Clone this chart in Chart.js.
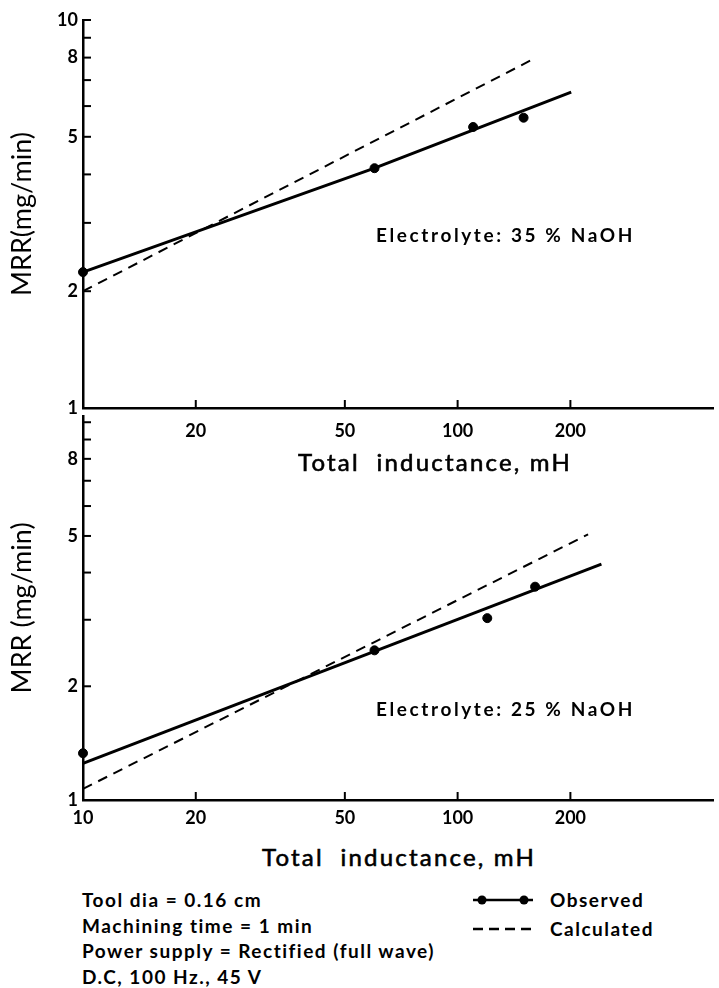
<!DOCTYPE html>
<html>
<head>
<meta charset="utf-8">
<script src="https://cdn.jsdelivr.net/npm/chart.js@4/dist/chart.umd.min.js"></script>
<style>
  body { margin: 0; background: #fff; }
  #wrap { position: relative; width: 719px; height: 988px; font-family: Lato, "DejaVu Sans", sans-serif; font-weight: 700; color: #000; }
  canvas { position: absolute; left: 0; }
  .txt { position: absolute; white-space: nowrap; }
  .xtitle { font-size: 24px; line-height: 28px; letter-spacing: 2.2px; font-weight: 400; -webkit-text-stroke: 0.6px #000; }
  .elec { font-size: 19px; line-height: 22px; letter-spacing: 2.6px; }
  .note { font-size: 19px; line-height: 25.5px; letter-spacing: 1.5px; }
</style>
</head>
<body>
<div id="wrap">
  <canvas id="top" width="719" height="460" style="top:0"></canvas>
  <canvas id="bottom" width="719" height="440" style="top:400px"></canvas>

  <div class="txt xtitle" style="left:298px; top:448px">Total&nbsp; inductance, mH</div>
  <div class="txt xtitle" style="left:262px; top:843px">Total&nbsp; inductance, mH</div>
  <div class="txt elec" style="left:376px; top:224px">Electrolyte: 35 % NaOH</div>
  <div class="txt elec" style="left:376px; top:698px">Electrolyte: 25 % NaOH</div>

  <div class="txt note" style="left:82px; top:887px">
    Tool dia = 0.16 cm<br>
    Machining time = 1 min<br>
    Power supply = Rectified (full wave)<br>
    D.C, 100 Hz., 45 V
  </div>

  <svg style="position:absolute; left:470px; top:890px" width="70" height="50">
    <line x1="3" y1="10" x2="63" y2="10" stroke="#000" stroke-width="2.5"/>
    <circle cx="12" cy="10" r="4.5" fill="#000"/>
    <circle cx="54" cy="10" r="4.5" fill="#000"/>
    <line x1="3" y1="39" x2="63" y2="39" stroke="#000" stroke-width="2.5" stroke-dasharray="10,6"/>
  </svg>
  <div class="txt note" style="left:550px; top:887px">Observed</div>
  <div class="txt note" style="left:550px; top:916px">Calculated</div>
</div>

<script>
// Electrolyte 35 % NaOH
const obsL35 = [10, 60, 110, 150];
const obsMRR35 = [2.24, 4.15, 5.3, 5.6];
const fitL35 = [10, 60, 201];
const fitMRR35 = [2.24, 4.15, 6.52];
const calcL35 = [10, 162];
const calcMRR35 = [2.0, 8.0];

// Electrolyte 25 % NaOH
const obsL25 = [10, 60, 120, 161];
const obsMRR25 = [1.33, 2.49, 3.03, 3.67];
const fitL25 = [10, 242];
const fitMRR25 = [1.25, 4.21];
const calcL25 = [10, 223];
const calcMRR25 = [1.07, 5.05];

// ticks
const yTicks = [1, 2, 3, 4, 5, 6, 7, 8, 9, 10];
const yLabelsTop = [1, 2, 5, 8, 10];
const yLabelsBottom = [1, 2, 5, 8];
const xTicksTop = [20, 50, 100, 200];
const xTicksBottom = [10, 20, 50, 100, 200];

const FONT = 'Lato, "DejaVu Sans", sans-serif';

function pts(xs, ys) {
    return xs.map((x, i) => ({ x: x, y: ys[i] }));
}

// marcas de escala hacia dentro del área del gráfico
const inwardTicks = {
    id: 'inwardTicks',
    afterDraw(chart) {
        const ctx = chart.ctx;
        const area = chart.chartArea;
        const xs = chart.scales.x, ys = chart.scales.y;
        ctx.save();
        ctx.strokeStyle = '#000';
        ctx.lineWidth = 2;
        ys.ticks.forEach(t => {
            const y = ys.getPixelForValue(t.value);
            ctx.beginPath();
            ctx.moveTo(area.left, y);
            ctx.lineTo(area.left + 8, y);
            ctx.stroke();
        });
        xs.ticks.forEach(t => {
            const x = xs.getPixelForValue(t.value);
            ctx.beginPath();
            ctx.moveTo(x, area.bottom);
            ctx.lineTo(x, area.bottom - 8);
            ctx.stroke();
        });
        ctx.restore();
    }
};

function makeChart(id, d, cfg) {
    return new Chart(document.getElementById(id), {
        type: 'scatter',
        data: {
            datasets: [
                {
                    label: 'Calculated',
                    data: pts(d.calcL, d.calcMRR),
                    showLine: true,
                    borderColor: '#000',
                    borderWidth: 2,
                    borderDash: [10, 7],
                    pointRadius: 0,
                    clip: false
                },
                {
                    label: 'Observed (fit)',
                    data: pts(d.fitL, d.fitMRR),
                    showLine: true,
                    borderColor: '#000',
                    borderWidth: 3,
                    pointRadius: 0,
                    clip: false
                },
                {
                    label: 'Observed',
                    data: pts(d.obsL, d.obsMRR),
                    showLine: false,
                    backgroundColor: '#000',
                    borderColor: '#000',
                    pointRadius: 4.5,
                    clip: false
                }
            ]
        },
        options: {
            responsive: false,
            animation: false,
            layout: { padding: { top: cfg.padTop, left: 0, right: 0, bottom: 0 } },
            plugins: { legend: { display: false }, tooltip: { enabled: false } },
            scales: {
                x: {
                    type: 'logarithmic',
                    min: 10,
                    max: 482,
                    afterFit: s => { s.height = cfg.xHeight; },
                    afterBuildTicks: s => { s.ticks = cfg.xTicks.map(v => ({ value: v })); },
                    grid: { display: false, drawTicks: false },
                    border: { display: true, color: '#000', width: 2.5 },
                    ticks: {
                        autoSkip: false,
                        maxRotation: 0,
                        padding: cfg.xPad,
                        color: '#000',
                        font: { family: FONT, size: 18, weight: 'bold' },
                        callback: v => String(v)
                    }
                },
                y: {
                    type: 'logarithmic',
                    min: 1,
                    max: cfg.yMax,
                    afterFit: s => { s.width = 83; },
                    afterBuildTicks: s => { s.ticks = yTicks.filter(v => v <= cfg.yMax).map(v => ({ value: v })); },
                    grid: { display: false, drawTicks: false },
                    border: { display: true, color: '#000', width: 2.5 },
                    ticks: {
                        autoSkip: false,
                        padding: 5,
                        color: '#000',
                        font: { family: FONT, size: 18, weight: 'bold' },
                        callback: v => cfg.yLabels.includes(v) ? String(v) : ''
                    },
                    title: {
                        display: true,
                        text: cfg.yTitle,
                        color: '#000',
                        padding: { top: 6, bottom: 0 },
                        font: { family: FONT, size: 27, weight: 'normal' }
                    }
                }
            }
        },
        plugins: [inwardTicks]
    });
}

makeChart('top',
    { obsL: obsL35, obsMRR: obsMRR35, fitL: fitL35, fitMRR: fitMRR35, calcL: calcL35, calcMRR: calcMRR35 },
    { padTop: 20, xHeight: 52, xPad: 12, yMax: 10, xTicks: xTicksTop, yLabels: yLabelsTop, yTitle: 'MRR(mg/min)' });

makeChart('bottom',
    { obsL: obsL25, obsMRR: obsMRR25, fitL: fitL25, fitMRR: fitMRR25, calcL: calcL25, calcMRR: calcMRR25 },
    { padTop: 8, xHeight: 40, xPad: 7, yMax: 10.4, xTicks: xTicksBottom, yLabels: yLabelsBottom, yTitle: 'MRR (mg/min)' });
</script>
</body>
</html>
